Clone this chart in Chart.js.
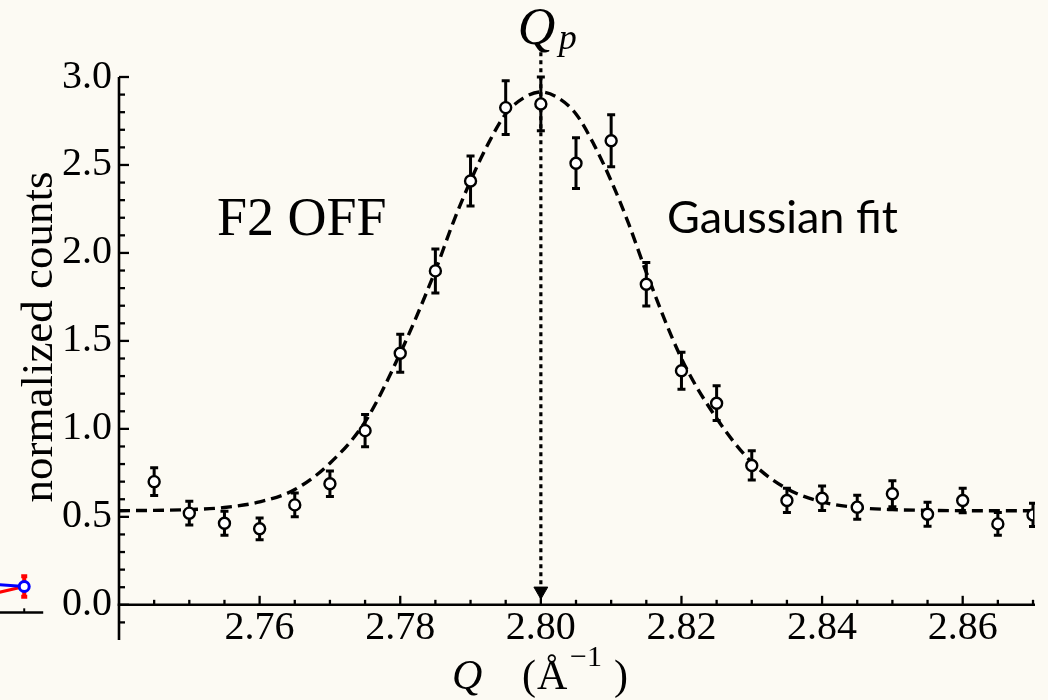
<!DOCTYPE html>
<html><head><meta charset="utf-8">
<script src="https://cdn.jsdelivr.net/npm/chart.js@4.4.1/dist/chart.umd.min.js"></script>
<style>html,body{margin:0;padding:0;background:#fcfaf3;}canvas{display:block;}</style>
</head><body>
<canvas id="c" width="1048" height="700"></canvas>
<script>
// ---- data ----
const qValues = [2.745, 2.750, 2.755, 2.760, 2.765, 2.770, 2.775, 2.780, 2.785, 2.790, 2.795, 2.800, 2.805,
                 2.810, 2.815, 2.820, 2.825, 2.830, 2.835, 2.840, 2.845, 2.850, 2.855, 2.860, 2.865, 2.870];
const counts = [0.700, 0.521, 0.464, 0.432, 0.568, 0.688, 0.990, 1.430, 1.898, 2.409, 2.826, 2.847, 2.510,
                2.638, 1.822, 1.330, 1.146, 0.792, 0.593, 0.606, 0.555, 0.631, 0.515, 0.593, 0.460, 0.511];
const countErrors = [0.079, 0.068, 0.068, 0.062, 0.068, 0.072, 0.092, 0.108, 0.125, 0.142, 0.153, 0.153, 0.144,
                     0.148, 0.123, 0.105, 0.099, 0.083, 0.069, 0.070, 0.068, 0.074, 0.068, 0.070, 0.064, 0.066];
const fitQ = [2.740, 2.745, 2.750, 2.755, 2.760, 2.765, 2.770, 2.775, 2.780, 2.785, 2.7875, 2.790, 2.7925, 2.795,
              2.7975, 2.800, 2.8025, 2.805, 2.8075, 2.810, 2.8125, 2.815, 2.820, 2.825, 2.830, 2.835, 2.840,
              2.845, 2.850, 2.855, 2.860, 2.865, 2.870];
const fitCounts = [0.535, 0.537, 0.541, 0.553, 0.585, 0.655, 0.805, 1.040, 1.430, 1.900, 2.170, 2.410, 2.620, 2.790,
                   2.880, 2.915, 2.880, 2.790, 2.620, 2.410, 2.165, 1.890, 1.400, 1.060, 0.810, 0.660, 0.585,
                   0.553, 0.541, 0.537, 0.535, 0.535, 0.535];
const xTickLabels = [2.76, 2.78, 2.80, 2.82, 2.84, 2.86];
const yTickLabels = [0.0, 0.5, 1.0, 1.5, 2.0, 2.5, 3.0];
const peakQ = [2.800, 2.800];
const peakArrowCounts = [3.14, 0.05];
const arrowHeadCounts = [0.078];
// fragment of the neighbouring panel (cut off at the left edge)
const neighborQ = [2.7220, 2.72652];
const neighborBlue = [0.117, 0.104];
const neighborRed = [0.062, 0.104];
const neighborRedError = [0, 0.058];
const neighborAxisQ = [2.7220, 2.72922];
const neighborAxisCounts = [-0.044, -0.044];
const neighborTickQ = [2.72652, 2.72652];
const neighborTickCounts = [-0.044, -0.020];

const BG = '#fcfaf3';
const SERIF = '"Liberation Serif", "Times New Roman", serif';
const SANS = 'Lato, "Open Sans", sans-serif';
const pts = (xs, ys) => xs.map((x, i) => ({x: x, y: ys[i]}));

const decor = {
  id: 'decor',
  beforeDraw(chart) {
    const c = chart.ctx;
    c.save(); c.fillStyle = BG; c.fillRect(0, 0, chart.width, chart.height); c.restore();
  },
  beforeDatasetDraw(chart, args) {
    const ds = chart.data.datasets[args.index];
    if (!ds.errors) return;
    const c = chart.ctx, xs = chart.scales.x, ys = chart.scales.y, a = chart.chartArea;
    c.save();
    if (ds.clipBars) { c.beginPath(); c.rect(a.left - 5, a.top - 40, a.right - a.left + 7, a.bottom - a.top + 40); c.clip(); }
    c.strokeStyle = ds.errorColor; c.lineWidth = ds.errorWidth; c.lineCap = 'butt';
    ds.data.forEach((p, i) => {
      const e = ds.errors[i]; if (!e) return;
      const x = xs.getPixelForValue(p.x), y1 = ys.getPixelForValue(p.y + e), y2 = ys.getPixelForValue(p.y - e);
      c.beginPath();
      c.moveTo(x, y1); c.lineTo(x, y2);
      c.moveTo(x - ds.capHalf, y1); c.lineTo(x + ds.capHalf, y1);
      c.moveTo(x - ds.capHalf, y2); c.lineTo(x + ds.capHalf, y2);
      c.stroke();
    });
    c.restore();
  },
  afterDatasetDraw(chart, args) {
    // marker of the cut-off neighbouring panel lies outside the chart area, so draw it here
    const ds = chart.data.datasets[args.index];
    if (!ds.edgeMarker) return;
    const c = chart.ctx, xs = chart.scales.x, ys = chart.scales.y;
    const p = ds.data[ds.data.length - 1];
    c.save();
    c.beginPath();
    c.arc(xs.getPixelForValue(p.x), ys.getPixelForValue(p.y), ds.edgeMarker, 0, Math.PI * 2);
    c.fillStyle = '#fff'; c.fill();
    c.lineWidth = 3; c.strokeStyle = ds.borderColor; c.stroke();
    c.restore();
  },
  afterDatasetsDraw(chart) {
    const c = chart.ctx, xs = chart.scales.x, ys = chart.scales.y, a = chart.chartArea;
    const y0 = ys.getPixelForValue(0);
    c.save();
    c.strokeStyle = '#000'; c.lineCap = 'butt';
    c.lineWidth = 2.6;
    c.beginPath(); c.moveTo(a.left, a.top); c.lineTo(a.left, a.bottom); c.stroke();
    c.beginPath(); c.moveTo(a.left - 1.3, y0); c.lineTo(a.right + 2, y0); c.stroke();
    c.lineWidth = 2.3;
    for (let k = -1; k <= 30; k++) {
      const y = ys.getPixelForValue(k / 10), len = (k % 5 === 0) ? 10 : 6;
      c.beginPath(); c.moveTo(a.left, y); c.lineTo(a.left + len, y); c.stroke();
    }
    for (let k = 1; k <= 26; k++) {
      const m = 2740 + 5 * k, x = xs.getPixelForValue(m / 1000), len = (m % 20 === 0) ? 9 : 5;
      c.beginPath(); c.moveTo(x, y0); c.lineTo(x, y0 - len); c.stroke();
    }
    c.restore();
  },
  afterDraw(chart) {
    const c = chart.ctx, xs = chart.scales.x;
    const xp = xs.getPixelForValue(2.80);
    c.save();
    c.fillStyle = '#000';
    c.textAlign = 'left'; c.textBaseline = 'alphabetic';
    c.font = '54px ' + SERIF;
    c.fillText('F2 OFF', 217, 235);
    c.font = '45px ' + SANS;
    c.fillText('Gaussian fit', 667, 233);
    c.font = 'italic 52px ' + SERIF;
    c.fillText('Q', xp - 23, 44);
    c.font = 'italic 36px ' + SERIF;
    c.fillText('p', xp + 18, 49);
    c.font = 'italic 42px ' + SERIF;
    c.fillText('Q', 452, 689);
    c.font = '42px ' + SERIF;
    c.fillText('(', 522, 689);
    c.fillText('\u00C5', 537, 689);
    c.fillText(')', 614, 689);
    c.font = '30px ' + SERIF;
    c.fillText('\u22121', 570, 666);
    c.translate(52, 337); c.rotate(-Math.PI / 2);
    c.textAlign = 'center';
    c.font = '45px ' + SERIF;
    c.fillText('normalized counts', 0, 0);
    c.restore();
  }
};

new Chart(document.getElementById('c'), {
  type: 'scatter',
  data: {
    datasets: [
      { label: 'F2 OFF data', data: pts(qValues, counts), errors: countErrors, errorColor: '#000', errorWidth: 3,
        capHalf: 4, clipBars: true, showLine: false, pointRadius: 5.5, pointBorderWidth: 2.4,
        pointBackgroundColor: '#fff', pointBorderColor: '#000', order: 0 },
      { label: 'Gaussian fit', data: pts(fitQ, fitCounts), showLine: true, borderColor: '#000', borderWidth: 3.4,
        borderDash: [11, 6], pointRadius: 0, cubicInterpolationMode: 'monotone', order: 2 },
      { label: 'Q_p line', data: pts(peakQ, peakArrowCounts), showLine: true, borderColor: '#000', borderWidth: 3.2,
        borderDash: [4, 4], pointRadius: 0, clip: false, order: 3 },
      { label: 'Q_p arrow', data: pts([2.80], arrowHeadCounts), showLine: false, pointStyle: 'triangle',
        rotation: 180, pointRadius: 8, pointBackgroundColor: '#000', pointBorderColor: '#000', pointBorderWidth: 1,
        clip: false, order: 1 },
      { label: 'neighbor red', data: pts(neighborQ, neighborRed), errors: neighborRedError, errorColor: '#ff0000',
        errorWidth: 4, capHalf: 3, showLine: true, borderColor: '#ff0000', borderWidth: 3, pointRadius: 0,
        clip: false, order: 5 },
      { label: 'neighbor blue', data: pts(neighborQ, neighborBlue), showLine: true, borderColor: '#0000ff',
        borderWidth: 3, pointRadius: 0, edgeMarker: 5, clip: false, order: 4 },
      { label: 'neighbor axis', data: pts(neighborAxisQ, neighborAxisCounts), showLine: true, borderColor: '#000',
        borderWidth: 2.5, pointRadius: 0, clip: false, order: 6 },
      { label: 'neighbor tick', data: pts(neighborTickQ, neighborTickCounts), showLine: true, borderColor: '#000',
        borderWidth: 2, pointRadius: 0, clip: false, order: 6 }
    ]
  },
  options: {
    responsive: false, animation: false, devicePixelRatio: 1, events: [],
    layout: { padding: { left: 0, top: 77, right: 15, bottom: 60 } },
    plugins: { legend: { display: false }, tooltip: { enabled: false } },
    scales: {
      x: {
        type: 'linear', position: { y: 0 }, min: 2.74, max: 2.87,
        afterBuildTicks: s => { s.ticks = xTickLabels.map(v => ({ value: v })); },
        grid: { display: false, drawTicks: false }, border: { display: false },
        ticks: { color: '#000', font: { family: SERIF, size: 40 }, padding: 0, maxRotation: 0, autoSkip: false,
                 callback: v => Number(v).toFixed(2) }
      },
      y: {
        type: 'linear', position: 'left', min: -0.2, max: 3.0,
        afterBuildTicks: s => { s.ticks = yTickLabels.map(v => ({ value: v })); },
        afterFit: s => { s.width = 119; },
        grid: { display: false, drawTicks: false }, border: { display: false },
        ticks: { color: '#000', font: { family: SERIF, size: 40 }, padding: 7,
                 callback: v => Number(v).toFixed(1) }
      }
    }
  },
  plugins: [decor]
});
</script>
</body></html>
